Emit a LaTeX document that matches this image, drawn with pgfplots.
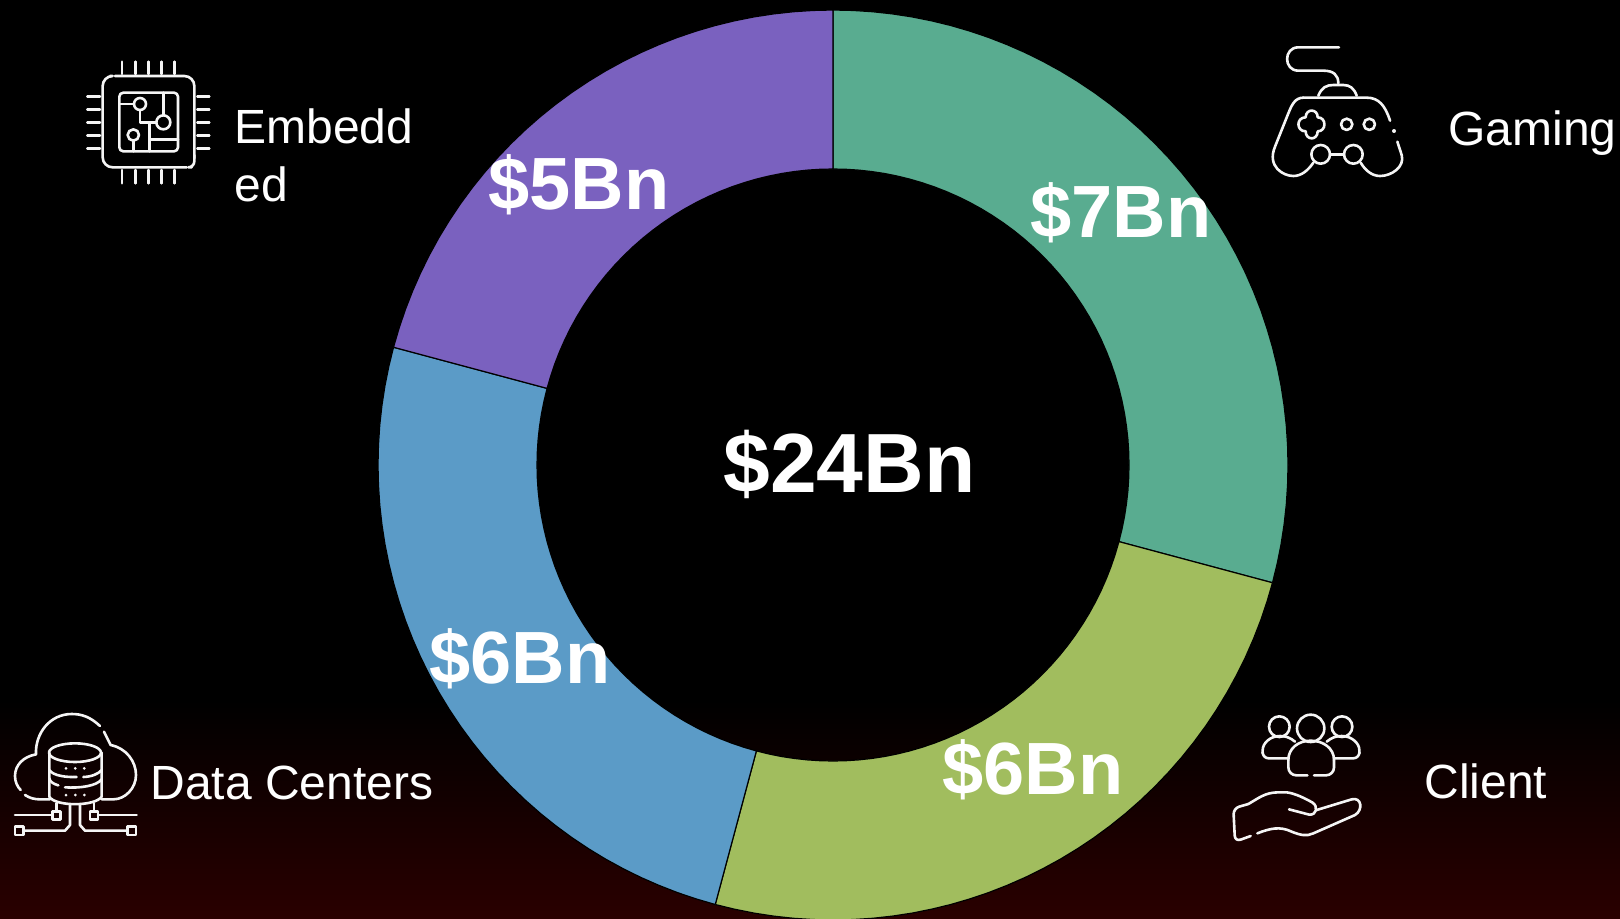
\documentclass[border=0pt]{standalone}
\usepackage{fontspec}
\setmainfont{Liberation Sans}
\usepackage{pgfplots}
\pgfplotsset{compat=1.18}
\definecolor{cgreen}{RGB}{89,172,144}
\definecolor{clime}{RGB}{161,189,94}
\definecolor{cblue}{RGB}{91,155,199}
\definecolor{cpurple}{RGB}{122,97,191}
\definecolor{cred}{RGB}{42,0,0}
\definecolor{iconw}{RGB}{245,245,245}
\pgfplotsset{slice/.style={draw=black,line width=0.6pt,data cs=polar}}
\tikzset{
  icon/.style={x=0.16667pt,y=-0.16667pt,draw=iconw,line width=1.3pt,line cap=round,line join=round},
  lab/.style={anchor=base west,inner sep=0pt,text=white,font=\fontsize{24}{28}\selectfont},
  val/.style={anchor=base west,inner sep=0pt,text=white,font=\fontsize{37}{40}\selectfont\bfseries},
}
\begin{document}
\begin{tikzpicture}
% background, pixels / 2 = pt
\path[use as bounding box] (0,0) rectangle (810pt,459pt);
\fill[black] (0,0) rectangle (810pt,459pt);
\shade[bottom color=cred,top color=black] (0,0) rectangle (810pt,109pt);
\begin{axis}[
  at={(0,0)},anchor=south west,
  scale only axis,width=810pt,height=459pt,
  xmin=-833,xmax=787,ymin=-453,ymax=465,
  hide axis,clip=true,
]
% Gaming 7 of 24 (angle, radius)
\addplot[slice,fill=cgreen] coordinates {
  (90,455)(87.5,455)(85,455)(82.5,455)(80,455)(77.5,455)(75,455)(72.5,455)(70,455)(67.5,455)(65,455)
  (62.5,455)(60,455)(57.5,455)(55,455)(52.5,455)(50,455)(47.5,455)(45,455)(42.5,455)(40,455)(37.5,455)
  (35,455)(32.5,455)(30,455)(27.5,455)(25,455)(22.5,455)(20,455)(17.5,455)(15,455)(12.5,455)(10,455)
  (7.5,455)(5,455)(2.5,455)(0,455)(-2.5,455)(-5,455)(-7.5,455)(-10,455)(-12.5,455)(-15,455)
  (-15,296)(-12.5,296)(-10,296)(-7.5,296)(-5,296)(-2.5,296)(0,296)(2.5,296)(5,296)(7.5,296)(10,296)
  (12.5,296)(15,296)(17.5,296)(20,296)(22.5,296)(25,296)(27.5,296)(30,296)(32.5,296)(35,296)(37.5,296)
  (40,296)(42.5,296)(45,296)(47.5,296)(50,296)(52.5,296)(55,296)(57.5,296)(60,296)(62.5,296)(65,296)
  (67.5,296)(70,296)(72.5,296)(75,296)(77.5,296)(80,296)(82.5,296)(85,296)(87.5,296)(90,296)
  (90,455)
};
% Client 6 of 24
\addplot[slice,fill=clime] coordinates {
  (-15,455)(-17.5,455)(-20,455)(-22.5,455)(-25,455)(-27.5,455)(-30,455)(-32.5,455)(-35,455)(-37.5,455)
  (-40,455)(-42.5,455)(-45,455)(-47.5,455)(-50,455)(-52.5,455)(-55,455)(-57.5,455)(-60,455)(-62.5,455)
  (-65,455)(-67.5,455)(-70,455)(-72.5,455)(-75,455)(-77.5,455)(-80,455)(-82.5,455)(-85,455)(-87.5,455)
  (-90,455)(-92.5,455)(-95,455)(-97.5,455)(-100,455)(-102.5,455)(-105,455)
  (-105,296)(-102.5,296)(-100,296)(-97.5,296)(-95,296)(-92.5,296)(-90,296)(-87.5,296)(-85,296)(-82.5,296)
  (-80,296)(-77.5,296)(-75,296)(-72.5,296)(-70,296)(-67.5,296)(-65,296)(-62.5,296)(-60,296)(-57.5,296)
  (-55,296)(-52.5,296)(-50,296)(-47.5,296)(-45,296)(-42.5,296)(-40,296)(-37.5,296)(-35,296)(-32.5,296)
  (-30,296)(-27.5,296)(-25,296)(-22.5,296)(-20,296)(-17.5,296)(-15,296)
  (-15,455)
};
% Data Centers 6 of 24
\addplot[slice,fill=cblue] coordinates {
  (-105,455)(-107.5,455)(-110,455)(-112.5,455)(-115,455)(-117.5,455)(-120,455)(-122.5,455)(-125,455)(-127.5,455)
  (-130,455)(-132.5,455)(-135,455)(-137.5,455)(-140,455)(-142.5,455)(-145,455)(-147.5,455)(-150,455)(-152.5,455)
  (-155,455)(-157.5,455)(-160,455)(-162.5,455)(-165,455)(-167.5,455)(-170,455)(-172.5,455)(-175,455)(-177.5,455)
  (-180,455)(-182.5,455)(-185,455)(-187.5,455)(-190,455)(-192.5,455)(-195,455)
  (-195,296)(-192.5,296)(-190,296)(-187.5,296)(-185,296)(-182.5,296)(-180,296)(-177.5,296)(-175,296)(-172.5,296)
  (-170,296)(-167.5,296)(-165,296)(-162.5,296)(-160,296)(-157.5,296)(-155,296)(-152.5,296)(-150,296)(-147.5,296)
  (-145,296)(-142.5,296)(-140,296)(-137.5,296)(-135,296)(-132.5,296)(-130,296)(-127.5,296)(-125,296)(-122.5,296)
  (-120,296)(-117.5,296)(-115,296)(-112.5,296)(-110,296)(-107.5,296)(-105,296)
  (-105,455)
};
% Embedded 5 of 24
\addplot[slice,fill=cpurple] coordinates {
  (165,455)(162.5,455)(160,455)(157.5,455)(155,455)(152.5,455)(150,455)(147.5,455)(145,455)(142.5,455)(140,455)
  (137.5,455)(135,455)(132.5,455)(130,455)(127.5,455)(125,455)(122.5,455)(120,455)(117.5,455)(115,455)
  (112.5,455)(110,455)(107.5,455)(105,455)(102.5,455)(100,455)(97.5,455)(95,455)(92.5,455)(90,455)
  (90,296)(92.5,296)(95,296)(97.5,296)(100,296)(102.5,296)(105,296)(107.5,296)(110,296)(112.5,296)(115,296)
  (117.5,296)(120,296)(122.5,296)(125,296)(127.5,296)(130,296)(132.5,296)(135,296)(137.5,296)(140,296)
  (142.5,296)(145,296)(147.5,296)(150,296)(152.5,296)(155,296)(157.5,296)(160,296)(162.5,296)(165,296)
  (165,455)
};
\end{axis}
% text, image pixels
\begin{scope}[x=0.5pt,y=-0.5pt,yshift=459pt]
  \node[lab] at (234,143) {Embedd};
  \node[lab] at (234,201) {ed};
  \node[lab] at (1448,145) {Gaming};
  \node[lab] at (150,799) {Data Centers};
  \node[lab] at (1424,798) {Client};
  \node[val] at (488,209) {\$5Bn};
  \node[val] at (1030,237) {\$7Bn};
  \node[val] at (429,683) {\$6Bn};
  \node[val] at (942,794) {\$6Bn};
  \node[anchor=base west,inner sep=0pt,text=white,font=\fontsize{42}{46}\selectfont\bfseries] at (723,492) {\$24Bn};
\end{scope}
% chip icon
\begin{scope}[icon,shift={(30pt,439pt)}]
  \foreach \x in {186,226,265,304,344} {
    \draw (\x,65) -- (\x,102);
    \draw (\x,390) -- (\x,430);
  }
  \foreach \y in {170,208,247,287,326} {
    \draw (82,\y) -- (120,\y);
    \draw (412,\y) -- (448,\y);
  }
  \draw[rounded corners=5pt] (165,108) -- (403,108) -- (403,355);
  \draw[rounded corners=3pt] (403,345) -- (403,382) -- (395,382);
  \draw[rounded corners=5pt] (380,382) -- (128,382) -- (128,108) -- (150,108);
  \draw[rounded corners=2pt] (178,158) rectangle (354,334);
  \draw (240,192) circle[radius=18];
  \draw (310,247) circle[radius=21];
  \draw (220,285) circle[radius=17];
  \draw (178,192) -- (222,192);
  \draw (240,210) -- (240,247) -- (289,247);
  \draw (310,158) -- (310,226);
  \draw (268,247) -- (268,334);
  \draw (268,298) -- (354,298);
  \draw (220,302) -- (220,334);
\end{scope}
% gamepad icon
\begin{scope}[icon,shift={(620pt,444pt)}]
  \draw (297,52) -- (175,52) .. controls (130,52) and (130,122) .. (175,122) -- (250,122) .. controls (280,122) and (295,135) .. (295,160);
  \draw (235,197) .. controls (245,172) and (260,165) .. (280,165) -- (310,165) .. controls (330,165) and (342,175) .. (350,197);
  \draw (190,203) -- (380,203) .. controls (415,203) and (435,225) .. (450,272);
  \draw (190,203) .. controls (165,203) and (155,225) .. (145,250) -- (105,350) .. controls (80,410) and (130,438) .. (160,438) .. controls (185,438) and (205,420) .. (220,398);
  \draw (472,335) -- (485,375) .. controls (495,410) and (455,438) .. (420,438) .. controls (395,438) and (375,420) .. (362,398);
  \fill[iconw,draw=none] (462,303) circle[radius=6];
  \draw (320,283) circle[radius=17];
  \draw (388,283) circle[radius=17];
  \draw (242,373) circle[radius=28];
  \draw (340,373) circle[radius=28];
  \draw (270,373) -- (312,373);
  % d-pad clover
  \draw (197,262) .. controls (197,235) and (233,235) .. (233,262)
     .. controls (260,262) and (260,304) .. (233,304)
     .. controls (233,332) and (197,332) .. (197,304)
     .. controls (168,304) and (168,262) .. (197,262);
\end{scope}
% cloud / database icon
\begin{scope}[icon,shift={(0pt,109pt)}]
  \draw (300,78) .. controls (270,50) and (245,42) .. (215,42) .. controls (150,42) and (105,100) .. (108,163);
  \draw (312,95) -- (332,135) .. controls (380,145) and (408,185) .. (408,225) .. controls (408,265) and (375,298) .. (340,298) -- (305,298);
  \draw (108,163) .. controls (70,170) and (45,195) .. (45,228) .. controls (45,245) and (52,260) .. (62,270);
  \draw (75,285) .. controls (90,295) and (105,298) .. (120,298) -- (150,298);
  \draw (225,158) ellipse[x radius=78,y radius=28];
  \draw (148,158) -- (148,210) .. controls (160,228) and (200,232) .. (230,231);
  \draw (250,231) .. controls (275,230) and (295,222) .. (305,210) -- (305,158);
  \draw (148,235) .. controls (150,245) and (160,252) .. (175,256);
  \draw (195,262) .. controls (240,265) and (290,258) .. (305,238);
  \draw (148,210) -- (148,290) .. controls (165,320) and (285,320) .. (305,290) -- (305,210);
  \foreach \x in {198,226,253} {
    \fill[iconw,draw=none] (\x,205) circle[radius=4.5];
    \fill[iconw,draw=none] (\x,285) circle[radius=4.5];
  }
  \draw (45,345) -- (158,345);
  \draw (158,334) rectangle (182,358);
  \draw (170,310) -- (170,334);
  \draw (410,345) -- (294,345);
  \draw (270,334) rectangle (294,358);
  \draw (282,310) -- (282,334);
  \draw (45,380) rectangle (70,405);
  \draw (70,392) -- (195,392) -- (210,375) -- (210,315);
  \draw (382,380) rectangle (408,405);
  \draw (382,392) -- (255,392) -- (240,375) -- (240,315);
\end{scope}
% people / hand icon
\begin{scope}[icon,shift={(610pt,109pt)}]
  \draw (178,80) circle[radius=31];
  \draw (272,85) circle[radius=41];
  \draw (366,80) circle[radius=31];
  \draw[rounded corners=4pt] (262,226) -- (205,226) -- (205,180);
  \draw (205,180) .. controls (205,145) and (235,122) .. (272,122) .. controls (310,122) and (342,145) .. (342,180);
  \draw[rounded corners=4pt] (342,180) -- (342,226) -- (282,226);
  \draw (225,125) .. controls (210,112) and (195,108) .. (180,108) .. controls (150,108) and (128,130) .. (128,150) -- (128,160);
  \draw[rounded corners=3pt] (128,160) -- (128,175) -- (205,175);
  \draw (320,125) .. controls (335,112) and (350,108) .. (365,108) .. controls (395,108) and (418,130) .. (418,150) -- (418,160);
  \draw[rounded corners=3pt] (418,160) -- (418,175) -- (342,175);
  % hand
  \draw[rounded corners=3pt] (92,408) -- (45,425) -- (40,325) -- (85,312);
  \draw (85,312) .. controls (115,295) and (135,277) .. (175,277) -- (200,277) .. controls (225,280) and (255,295) .. (278,308) .. controls (295,320) and (290,345) .. (268,344) -- (207,328);
  \draw (290,330) -- (395,298) .. controls (425,290) and (430,330) .. (405,345) -- (280,400) .. controls (260,410) and (240,405) .. (215,395) .. controls (180,378) and (150,385) .. (112,400);
\end{scope}
\end{tikzpicture}
\end{document}
